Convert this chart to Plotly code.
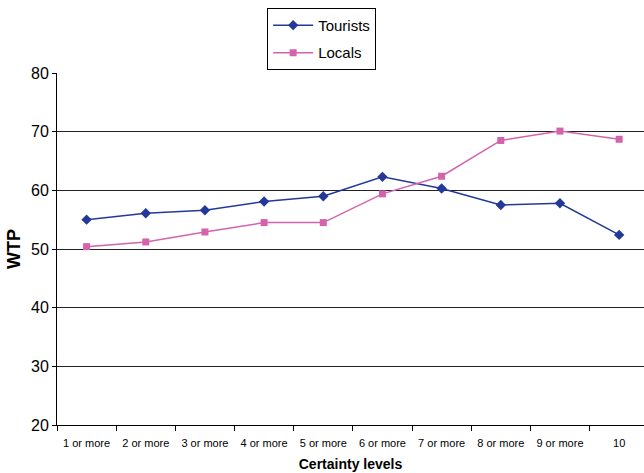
import plotly.graph_objects as go

categories = ["1 or more", "2 or more", "3 or more", "4 or more", "5 or more",
              "6 or more", "7 or more", "8 or more", "9 or more", "10"]
tourists = [55.0, 56.1, 56.6, 58.1, 59.0, 62.3, 60.3, 57.5, 57.8, 52.4]
locals_ = [50.4, 51.2, 52.9, 54.5, 54.5, 59.4, 62.4, 68.5, 70.1, 68.7]
y_ticks = [20, 30, 40, 50, 60, 70, 80]

fig = go.Figure()
fig.add_trace(go.Scatter(
    x=categories, y=tourists, name="Tourists", mode="lines+markers",
    legendgroup="a",
    line=dict(color="#23399A", width=1.5),
    marker=dict(symbol="diamond", size=8, color="#23399A"),
))
fig.add_trace(go.Scatter(
    x=categories, y=locals_, name="Locals", mode="lines+markers",
    legendgroup="b",
    line=dict(color="#D463AC", width=1.5),
    marker=dict(symbol="square", size=7, color="#D463AC"),
))

fig.update_layout(
    width=644, height=473,
    margin=dict(l=57, r=0, t=73, b=48),
    paper_bgcolor="white", plot_bgcolor="white",
    font=dict(family="Liberation Sans, Arial, sans-serif", color="black"),
    showlegend=True,
    legend=dict(
        x=0.358, xanchor="left", y=1.185, yanchor="top",
        bordercolor="black", borderwidth=1, bgcolor="white",
        font=dict(size=15, color="black"),
        traceorder="grouped", tracegroupgap=5,
        itemwidth=40,
    ),
    xaxis=dict(
        type="category",
        range=[-0.5, 9.42],
        tickson="boundaries",
        ticks="outside", ticklen=5, tickcolor="black",
        ticklabelstandoff=8,
        showline=True, linecolor="black", linewidth=1,
        showgrid=False,
        automargin=False,
        tickfont=dict(size=11),
        title=dict(text="<b>Certainty levels</b>", font=dict(size=14), standoff=10),
    ),
    yaxis=dict(
        range=[20, 80],
        tickvals=y_ticks,
        ticks="outside", ticklen=4, tickcolor="black",
        showline=True, linecolor="black", linewidth=1,
        showgrid=True, gridcolor="#222222", gridwidth=1,
        zeroline=False,
        automargin=False,
        tickfont=dict(size=16),
        title=dict(text="<b>WTP</b>", font=dict(size=18), standoff=5),
    ),
)

fig.write_html("out.html")
